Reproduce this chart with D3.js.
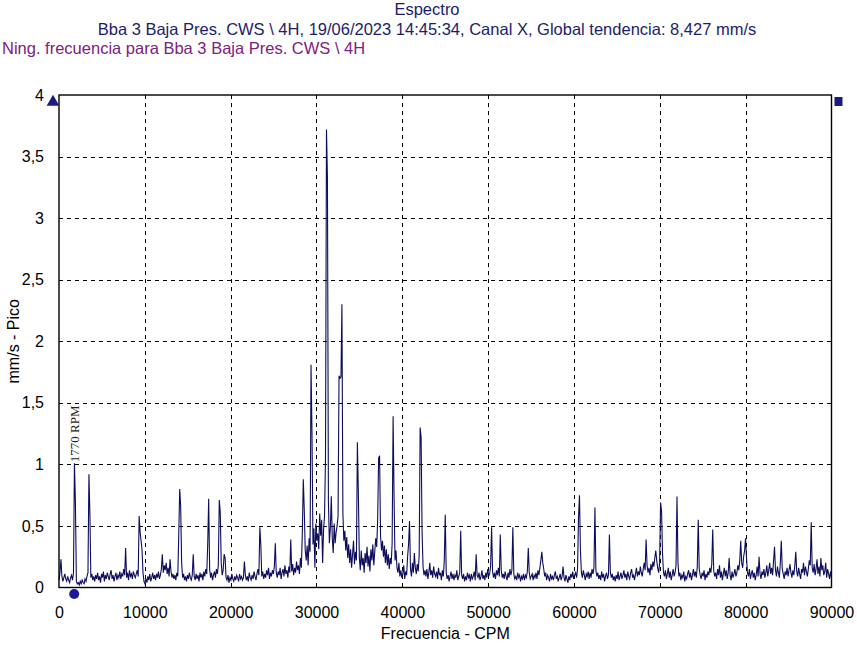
<!DOCTYPE html>
<html><head><meta charset="utf-8">
<script src="https://cdn.jsdelivr.net/npm/d3@7"></script>
<style>body{margin:0;background:#fff}svg{display:block}</style>
</head><body><svg id="c" width="857" height="645"></svg>
<script>
const chartTitle = "Espectro";
const chartSubtitle = "Bba 3 Baja Pres. CWS \\ 4H, 19/06/2023 14:45:34, Canal X, Global tendencia: 8,427 mm/s";
const noteLine = "Ning. frecuencia para Bba 3 Baja Pres. CWS \\ 4H";
const xAxisTitle = "Frecuencia - CPM";
const yAxisTitle = "mm/s - Pico";
const freqStep = 112.5; // CPM between spectral lines (800 lines, 0..90000)
const amplitude = [
.06,.12,.23,.09,.05,.08,.11,.07,.05,.09,.06,.04,.08,.10,.06,.12,1.01,.69,.05,.03,
.04,.02,.05,.03,.06,.04,.03,.07,.05,.09,.12,.92,.60,.08,.11,.06,.09,.05,.10,.07,
.12,.06,.09,.04,.11,.08,.13,.05,.10,.07,.12,.09,.06,.11,.14,.07,.10,.05,.09,.12,
.06,.10,.08,.13,.07,.11,.09,.15,.10,.32,.08,.12,.06,.14,.09,.11,.07,.13,.10,.08,
.11,.14,.09,.58,.45,.38,.30,.12,.05,.03,.07,.04,.09,.06,.11,.05,.08,.12,.07,.10,
.06,.11,.08,.13,.07,.10,.15,.27,.12,.18,.14,.20,.11,.16,.09,.23,.13,.08,.11,.07,
.10,.06,.12,.09,.42,.80,.66,.20,.08,.11,.06,.09,.05,.10,.07,.12,.08,.06,.10,.27,
.09,.06,.11,.07,.10,.05,.12,.08,.11,.06,.13,.09,.15,.11,.35,.72,.15,.08,.12,.06,
.10,.13,.08,.15,.11,.18,.71,.61,.20,.10,.14,.27,.24,.08,.06,.10,.04,.08,.06,.11,
.07,.05,.09,.06,.10,.08,.05,.11,.07,.09,.06,.08,.21,.10,.06,.09,.05,.12,.08,.06,
.10,.07,.13,.09,.06,.11,.15,.10,.49,.35,.09,.13,.07,.11,.08,.14,.10,.16,.07,.12,
.09,.14,.11,.17,.36,.12,.08,.13,.10,.16,.07,.12,.15,.09,.18,.11,.14,.08,.17,.12,
.39,.13,.19,.10,.16,.12,.21,.14,.18,.11,.24,.16,.45,.88,.63,.30,.22,.34,.18,.40,
.29,1.81,1.25,.35,.48,.16,.52,.38,.44,.31,.60,.42,.55,.20,.47,.58,1.05,3.72,3.33,.70,
.36,.48,.74,.40,.28,.52,.36,.45,.50,.58,1.72,1.70,1.71,2.30,.60,.38,.46,.30,.41,.24,
.35,.20,.31,.16,.27,.38,.19,.29,.22,1.18,.78,.25,.14,.30,.18,.24,.12,.28,.20,.33,
.17,.26,.13,.31,.22,.35,.18,.29,.40,.33,.55,1.05,1.07,.42,.30,.38,.25,.34,.20,.31,
.18,.27,.15,.24,.19,.36,1.39,.72,.22,.30,.16,.12,.20,.09,.14,.08,.11,.18,.07,.13,
.10,.25,.35,.54,.15,.09,.20,.12,.28,.16,.11,.19,.13,.26,1.30,1.22,.45,.17,.10,.14,
.09,.15,.07,.12,.20,.10,.14,.08,.17,.11,.09,.13,.07,.16,.10,.12,.06,.14,.09,.22,
.59,.12,.07,.10,.05,.09,.13,.07,.11,.06,.10,.08,.14,.06,.09,.12,.46,.10,.07,.11,
.05,.09,.06,.12,.08,.10,.05,.11,.07,.09,.13,.06,.27,.10,.08,.12,.06,.09,.14,.07,
.10,.06,.12,.08,.15,.09,.11,.18,.49,.13,.08,.12,.07,.14,.10,.16,.09,.43,.14,.08,
.11,.07,.13,.09,.06,.12,.08,.15,.10,.14,.49,.11,.07,.09,.06,.12,.08,.10,.05,.09,
.07,.11,.06,.10,.08,.13,.32,.12,.07,.09,.11,.06,.10,.08,.12,.07,.14,.10,.16,.22,
.29,.20,.15,.09,.12,.06,.10,.08,.05,.11,.07,.09,.06,.10,.13,.07,.09,.05,.08,.11,
.06,.09,.17,.08,.05,.10,.07,.04,.09,.06,.11,.08,.13,.07,.10,.12,.08,.15,.57,.75,
.30,.12,.08,.14,.10,.06,.11,.09,.13,.07,.12,.08,.15,.11,.16,.65,.14,.09,.12,.07,
.10,.06,.13,.08,.11,.05,.09,.12,.07,.10,.43,.12,.08,.11,.06,.09,.05,.10,.07,.13,
.06,.09,.12,.07,.10,.14,.08,.11,.06,.13,.09,.07,.12,.15,.08,.10,.06,.11,.16,.09,
.13,.10,.17,.12,.09,.15,.20,.14,.39,.18,.12,.16,.10,.19,.14,.21,.17,.24,.30,.22,
.16,.12,.20,.69,.62,.28,.12,.09,.14,.07,.11,.16,.08,.13,.06,.10,.15,.09,.12,.18,
.74,.20,.09,.12,.06,.10,.08,.13,.05,.09,.07,.11,.14,.08,.12,.06,.10,.15,.09,.13,
.08,.17,.55,.15,.10,.07,.12,.09,.14,.06,.11,.08,.13,.10,.16,.12,.19,.47,.14,.09,
.12,.07,.15,.10,.18,.08,.13,.06,.11,.16,.09,.14,.07,.12,.24,.10,.06,.13,.08,.11,
.15,.09,.12,.18,.14,.22,.38,.20,.16,.25,.30,.40,.24,.12,.09,.15,.07,.11,.14,.08,
.12,.06,.10,.17,.09,.25,.11,.07,.13,.10,.15,.08,.12,.18,.09,.14,.20,.11,.16,.10,
.22,.33,.14,.09,.17,.12,.08,.20,.38,.15,.11,.07,.13,.10,.16,.09,.14,.19,.12,.08,
.14,.10,.18,.29,.13,.09,.16,.11,.07,.15,.12,.20,.10,.17,.13,.09,.15,.22,.18,.53,
.16,.12,.19,.10,.15,.23,.11,.17,.09,.24,.14,.18,.10,.13,.20,.08,.15,.11,.07,.13,
.08
];
const xTicks = [0,10000,20000,30000,40000,50000,60000,70000,80000,90000];
const yTicks = [0,0.5,1,1.5,2,2.5,3,3.5,4];
const xDomain = [0, 90000];
const yDomain = [0, 4];
const markerFreq = 1770;
const markerLabel = "1770 RPM";
const markerPeak = 1.01;

const svg = d3.select("#c");
const m = {left:59, right:831.5, top:95, bottom:587.5};
const x = d3.scaleLinear().domain(xDomain).range([m.left, m.right]);
const y = d3.scaleLinear().domain(yDomain).range([m.bottom, m.top]);
const loc = d3.formatLocale({decimal:",", thousands:".", grouping:[3], currency:["","€"]});
const yFmt = loc.format(".1~f");
const xFmt = d3.format("d");
const FONT = "'Liberation Sans', Arial, sans-serif";
const navy = "#1c1c6c";

// titles
svg.append("text").attr("x",427).attr("y",15).attr("text-anchor","middle")
  .attr("font-family",FONT).attr("font-size",16.5).attr("fill",navy).text(chartTitle);
svg.append("text").attr("x",427).attr("y",35).attr("text-anchor","middle")
  .attr("font-family",FONT).attr("font-size",16.5).attr("fill",navy).text(chartSubtitle);
svg.append("text").attr("x",2).attr("y",54)
  .attr("font-family",FONT).attr("font-size",16.5).attr("fill","#80207f").text(noteLine);

// grid
const grid = svg.append("g").attr("stroke","#000").attr("stroke-dasharray","4,4").attr("stroke-width",1);
grid.selectAll("line.v").data(xTicks.slice(1,-1)).join("line")
  .attr("x1",d=>Math.round(x(d))+0.5).attr("x2",d=>Math.round(x(d))+0.5)
  .attr("y1",m.top).attr("y2",m.bottom);
grid.selectAll("line.h").data(yTicks.slice(1,-1)).join("line")
  .attr("y1",d=>Math.round(y(d))+0.5).attr("y2",d=>Math.round(y(d))+0.5)
  .attr("x1",m.left).attr("x2",m.right);

// spectrum line
const line = d3.line().x((d,i)=>x(i*freqStep)).y(d=>y(d));
svg.append("path").datum(amplitude).attr("d",line)
  .attr("fill","none").attr("stroke","#0d0d5c").attr("stroke-width",1.1).attr("stroke-linejoin","miter");

// frame
svg.append("rect").attr("x",m.left).attr("y",m.top).attr("width",m.right-m.left).attr("height",m.bottom-m.top)
  .attr("fill","none").attr("stroke","#000").attr("stroke-width",1.4);

// axes
const yAxis = d3.axisLeft(y).tickValues(yTicks).tickFormat(yFmt).tickSize(0).tickPadding(15);
const gy = svg.append("g").attr("transform",`translate(${m.left},0)`).call(yAxis);
gy.select(".domain").remove();
gy.selectAll("text").attr("font-family",FONT).attr("font-size",16).attr("fill","#000");

const xAxis = d3.axisBottom(x).tickValues(xTicks).tickFormat(xFmt).tickSize(0).tickPadding(19);
const gx = svg.append("g").attr("transform",`translate(0,${m.bottom})`).call(xAxis);
gx.select(".domain").remove();
gx.selectAll("text").attr("font-family",FONT).attr("font-size",16).attr("fill","#000");

svg.append("text").attr("x",(m.left+m.right)/2).attr("y",639).attr("text-anchor","middle")
  .attr("font-family",FONT).attr("font-size",16).attr("fill","#000").text(xAxisTitle);
svg.append("text").attr("transform",`translate(19,${(m.top+m.bottom)/2}) rotate(-90)`).attr("text-anchor","middle")
  .attr("font-family",FONT).attr("font-size",16).attr("fill","#000").text(yAxisTitle);

// cursor markers
svg.append("path").attr("d",d3.symbol(d3.symbolTriangle,70)()).attr("transform",`translate(53,102)`)
  .attr("fill","#1a1a80");
svg.append("rect").attr("x",m.right+3).attr("y",97).attr("width",8).attr("height",9).attr("fill","#1a1a80");
svg.append("circle").attr("cx",x(markerFreq)).attr("cy",594).attr("r",5).attr("fill","#1a1a99");
svg.append("text").attr("transform",`translate(${x(markerFreq)+5},${y(markerPeak)-1}) rotate(-90)`)
  .attr("font-family","'Liberation Serif', 'Times New Roman', serif").attr("font-size",13).attr("fill","#222").text(markerLabel);
</script></body></html>
